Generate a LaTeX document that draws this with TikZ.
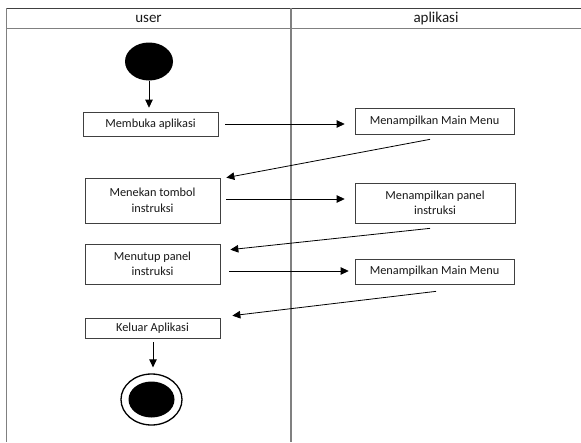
\documentclass[tikz,border=0pt]{standalone}
\usepackage{fontspec}
\setmainfont{Carlito}
\usetikzlibrary{arrows.meta,shapes.geometric,calc}
\begin{document}
\begin{tikzpicture}[x=1pt,y=-1pt,
  lane/.style={draw=black!50,line width=1.1pt},
  act/.style={draw=black!75,line width=0.7pt,inner sep=0pt,align=center,
    font=\fontsize{12.3}{15.5}\selectfont,text=black!90},
  flow/.style={draw=black,line width=0.8pt,-{Triangle[length=8pt,width=7.5pt]}},
  hdr/.style={font=\fontsize{15}{18}\selectfont,text=black!90}]
\useasboundingbox (0,0) rectangle (581,442);
\fill[white] (0,0) rectangle (581,442);

% swimlane frame
\draw[draw=black!75,line width=1pt] (6.5,8) -- (581,8);
\draw[lane] (6.5,28.5) -- (581,28.5);
\draw[lane] (6.5,8) -- (6.5,442);
\draw[lane] (291,8) -- (291,442);
\node[hdr] (huser) at (148.5,19) {user};
\node[hdr] (happ) at (436,19) {aplikasi};

% initial and final states
\node[ellipse,fill=black,minimum width=48pt,minimum height=38pt,inner sep=0pt] (start) at (149,61.5) {};
\node[ellipse,draw=black,line width=1.3pt,minimum width=61pt,minimum height=51pt,inner sep=0pt] (stop) at (151.5,399.5) {};
\node[ellipse,fill=black,minimum width=46pt,minimum height=36pt,inner sep=0pt] (stopin) at (151.5,399.5) {};

% user activities
\node[act,minimum width=135pt,minimum height=24pt] (membuka) at (150.5,124) {Membuka aplikasi};
\node[act,minimum width=135pt,minimum height=45pt] (menekan) at (152.5,200.5) {Menekan tombol\\instruksi};
\node[act,minimum width=135pt,minimum height=40pt] (menutup) at (152.5,264) {Menutup panel\\instruksi};
\node[act,minimum width=135pt,minimum height=20pt] (keluar) at (152.5,328) {Keluar Aplikasi};

% application activities
\node[act,minimum width=159pt,minimum height=26pt] (mm1) at (434.5,121) {Menampilkan Main Menu};
\node[act,minimum width=160pt,minimum height=40pt] (panel) at (435,203) {Menampilkan panel\\instruksi};
\node[act,minimum width=159pt,minimum height=25pt] (mm2) at (434.5,271.5) {Menampilkan Main Menu};

% control flow (shifts are in page orientation: negative yshift moves down)
\draw[flow,shorten >=4pt] (start.south) -- (membuka.north -| start.south);
\draw[flow] ([xshift=7pt]membuka.east) -- ([xshift=-10pt,yshift=-3pt]mm1.west);
\draw[flow] ([xshift=-4.5pt,yshift=-5pt]mm1.south) -- ([xshift=6pt]menekan.north east);
\draw[flow] ([xshift=6pt,yshift=1.5pt]menekan.east) -- ([xshift=-10pt,yshift=4pt]panel.west);
\draw[flow] ([xshift=-5pt,yshift=-5pt]panel.south) -- ([xshift=10pt,yshift=-6pt]menutup.north east);
\draw[flow] ([xshift=9pt,yshift=-7pt]menutup.east) -- ([xshift=-6pt,yshift=0.5pt]mm2.west);
\draw[flow] ([xshift=1.5pt,yshift=-7pt]mm2.south) -- ([xshift=12pt,yshift=2pt]keluar.north east);
\draw[flow] ([xshift=0.5pt,yshift=-4pt]keluar.south) -- ([xshift=1.5pt,yshift=6pt]stop.north);
\end{tikzpicture}
\end{document}
